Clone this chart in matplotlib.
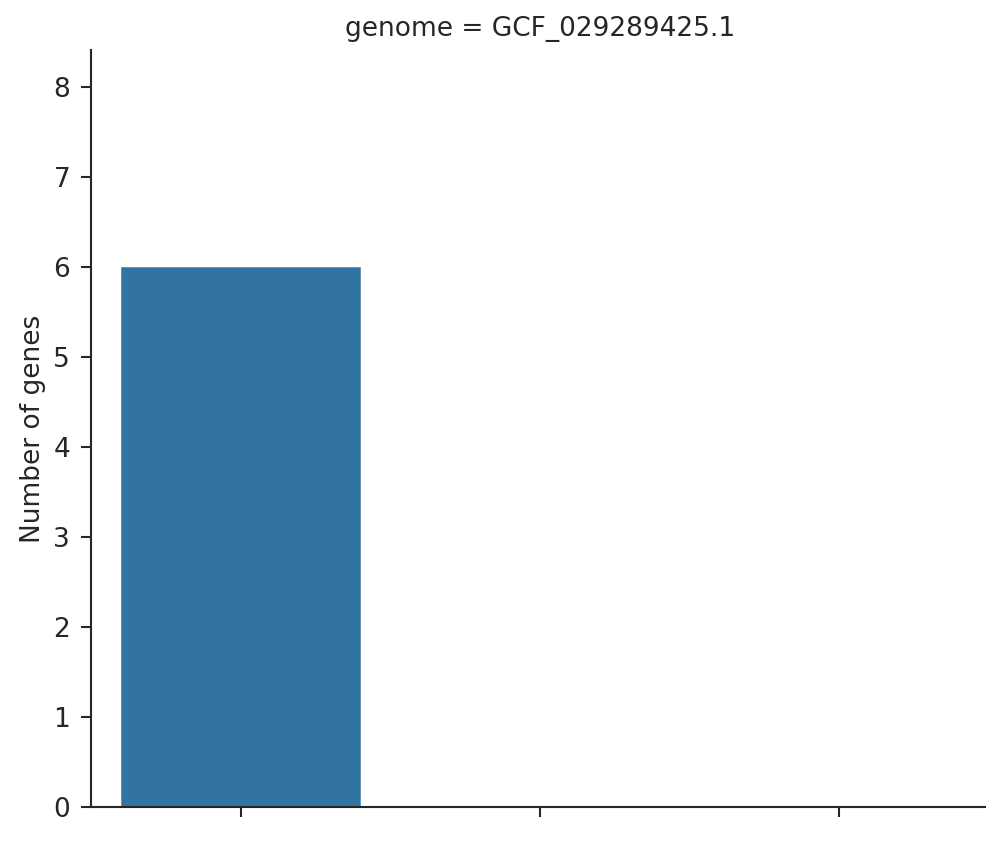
import matplotlib
matplotlib.use("Agg")
import matplotlib.pyplot as plt

categories = ["a", "b", "c"]
values = [6, 0, 0]
title = "genome = GCF_029289425.1"
ylabel = "Number of genes"

W, H = 986, 851
fig = plt.figure(figsize=(W / 100, H / 100), dpi=100)
ax = fig.add_axes([91 / W, 44 / H, (989 - 91) / W, (807 - 50) / H])
x = list(range(len(categories)))
ax.bar(x, values, width=0.8, color="#3274a1", edgecolor="#5a8fb8", linewidth=0.6)
ax.set_xlim(-0.5, 2.5)
ax.set_ylim(0, 8.41)
ax.set_xticks(x)
ax.set_xticklabels([])
ax.set_yticks(range(0, 9))
for s in ["top", "right"]:
    ax.spines[s].set_visible(False)
for s in ["left", "bottom"]:
    ax.spines[s].set_color("#262626")
    ax.spines[s].set_linewidth(1.5)
ax.tick_params(axis="both", colors="#262626", labelsize=19, width=1.5, length=7, pad=8)
ax.set_ylabel(ylabel, fontsize=19, color="#262626", labelpad=5)
ax.set_title(title, fontsize=19, color="#262626", pad=10)
fig.savefig("out.png", dpi=100)
